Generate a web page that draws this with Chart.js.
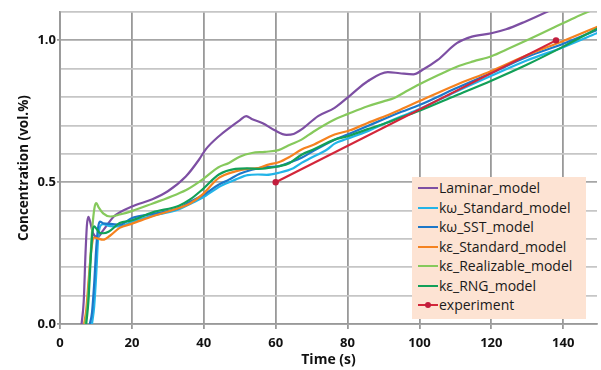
<!DOCTYPE html>
<html>
<head>
<meta charset="utf-8">
<script src="https://cdn.jsdelivr.net/npm/chart.js@4/dist/chart.umd.min.js"></script>
<style>
  html, body { margin: 0; padding: 0; background: #ffffff; }
  #wrap { position: relative; width: 601px; height: 370px; }
  #legend {
    position: absolute; left: 412px; top: 177px; width: 174px; height: 142px;
    background: #fde3d3; box-sizing: border-box; padding-top: 1px;
    font-family: "Open Sans", sans-serif; font-size: 14px; color: #1a1a1a;
  }
  .row { position: relative; height: 19.5px; line-height: 19.5px; white-space: nowrap; }
  .swatch { position: absolute; left: 6px; top: 9px; width: 20px; height: 2px; }
  .dot { position: absolute; left: 13px; top: 7px; width: 6px; height: 6px; border-radius: 50%; }
  .lbl { position: absolute; left: 27px; top: 0; }
</style>
</head>
<body>
<div id="wrap">
  <canvas id="c" width="601" height="370"></canvas>
  <div id="legend"></div>
</div>
<script>
// ---- data ----
const seriesNames = ["Laminar_model", "kω_Standard_model", "kω_SST_model", "kε_Standard_model", "kε_Realizable_model", "kε_RNG_model", "experiment"];

const laminarT = [6.0, 6.6, 7.1, 7.5, 7.9, 8.4, 9.2, 10.4, 12, 15, 20, 25.7, 30, 35, 38.7, 40.5, 44.2, 47.5, 50, 51.8, 53.5, 56.4, 59.6, 63, 65, 67.2, 71.8, 76.4, 81, 85.6, 91.2, 94.5, 98.3, 101, 105, 110.4, 114.6, 120, 124.1, 129.4, 135.2, 140, 149.5];
const laminarC = [0, 0.08, 0.25, 0.35, 0.378, 0.36, 0.32, 0.306, 0.33, 0.379, 0.414, 0.44, 0.468, 0.52, 0.58, 0.615, 0.662, 0.695, 0.718, 0.733, 0.722, 0.708, 0.684, 0.667, 0.67, 0.686, 0.733, 0.762, 0.809, 0.856, 0.888, 0.884, 0.88, 0.897, 0.93, 0.99, 1.013, 1.025, 1.039, 1.066, 1.099, 1.13, 1.19];

const kwStdT = [8.9, 9.5, 10.1, 10.6, 11.2, 12, 14, 16.6, 19.9, 25.8, 32.1, 36.3, 39.6, 44.8, 48.8, 52.2, 55, 57.5, 60.8, 64.9, 67.2, 69.1, 74.4, 76.4, 79.7, 85.6, 90, 95, 100, 110, 120, 130, 140, 149.5];
const kwStdC = [0, 0.06, 0.18, 0.3, 0.345, 0.352, 0.345, 0.344, 0.36, 0.382, 0.4, 0.424, 0.445, 0.487, 0.509, 0.525, 0.527, 0.526, 0.533, 0.549, 0.568, 0.581, 0.616, 0.636, 0.652, 0.68, 0.705, 0.732, 0.758, 0.818, 0.875, 0.93, 0.976, 1.026];

const kwSstT = [8.3, 8.9, 9.5, 10.1, 10.6, 11.1, 12, 14.1, 16.6, 19.9, 25.8, 33.1, 36.3, 39.6, 44, 47, 50, 53.4, 57.5, 60.8, 64, 67.2, 70.2, 76.4, 80, 85.6, 90, 95, 100, 110, 120, 130, 140, 149.5];
const kwSstC = [0, 0.04, 0.14, 0.27, 0.34, 0.361, 0.355, 0.353, 0.35, 0.373, 0.388, 0.409, 0.432, 0.453, 0.49, 0.509, 0.53, 0.544, 0.553, 0.556, 0.57, 0.586, 0.608, 0.65, 0.668, 0.698, 0.722, 0.748, 0.772, 0.83, 0.885, 0.942, 0.988, 1.037];

const keStdT = [6.7, 7.3, 8.0, 8.7, 9.5, 10.4, 12, 14, 16.6, 19.9, 25.8, 33.1, 36.3, 39.6, 44.2, 48.8, 52, 55.2, 58, 60.8, 64, 67.2, 70.2, 76.4, 80.7, 85.6, 91.3, 94.8, 100, 110, 120, 130, 140, 149.5];
const keStdC = [0, 0.05, 0.16, 0.26, 0.305, 0.302, 0.297, 0.312, 0.339, 0.353, 0.38, 0.409, 0.426, 0.456, 0.515, 0.538, 0.547, 0.55, 0.562, 0.57, 0.59, 0.615, 0.63, 0.668, 0.683, 0.709, 0.737, 0.756, 0.786, 0.842, 0.892, 0.948, 0.998, 1.048];

const keRealT = [7.0, 7.6, 8.3, 9.0, 9.6, 10.1, 10.8, 12, 14, 16.6, 20, 25.8, 32.2, 35.5, 39.6, 44, 47, 50, 53.4, 57, 60.8, 64, 67.2, 70.5, 76.4, 80, 85.6, 90, 93, 96, 100, 105, 110.4, 115, 120, 125, 130.5, 136.8, 143.2, 149.5];
const keRealC = [0, 0.06, 0.2, 0.34, 0.41, 0.426, 0.41, 0.39, 0.379, 0.386, 0.398, 0.425, 0.456, 0.475, 0.509, 0.552, 0.568, 0.59, 0.603, 0.607, 0.613, 0.632, 0.65, 0.678, 0.721, 0.74, 0.768, 0.785, 0.797, 0.818, 0.845, 0.876, 0.907, 0.926, 0.944, 0.972, 1.004, 1.042, 1.08, 1.115];

const keRngT = [7.3, 7.9, 8.5, 9.0, 9.5, 10.2, 11, 12, 13.5, 16.6, 19.9, 25.8, 33.1, 36.3, 39.6, 44.2, 48.8, 52, 55.2, 58, 60.8, 63.8, 67.2, 70.5, 76.4, 80, 85.6, 90.2, 94.8, 100, 110, 120, 130, 140, 149.5];
const keRngC = [0, 0.08, 0.22, 0.32, 0.344, 0.335, 0.322, 0.32, 0.325, 0.356, 0.365, 0.394, 0.417, 0.44, 0.474, 0.527, 0.547, 0.549, 0.547, 0.55, 0.556, 0.567, 0.597, 0.615, 0.65, 0.662, 0.687, 0.706, 0.728, 0.752, 0.805, 0.858, 0.915, 0.978, 1.042];

const expT = [60, 138];
const expC = [0.5, 1.0];

const xTickValues = [0, 20, 40, 60, 80, 100, 120, 140];
const yTickLabels = ["0.0", "0.5", "1.0"];

// ---- build ----
const colors = ["#7d4fa3", "#22b4e8", "#1c77c9", "#f5821f", "#86c95c", "#12a058", "#d3263a"];
const tArrays = [laminarT, kwStdT, kwSstT, keStdT, keRealT, keRngT, expT];
const cArrays = [laminarC, kwStdC, kwSstC, keStdC, keRealC, keRngC, expC];

const datasets = seriesNames.map((name, i) => ({
  label: name,
  data: tArrays[i].map((t, j) => ({ x: t, y: cArrays[i][j] })),
  borderColor: colors[i],
  backgroundColor: i === 6 ? "#c21d3d" : colors[i],
  borderWidth: 2.2,
  pointRadius: i === 6 ? 3.2 : 0,
  pointBorderWidth: 0,
  cubicInterpolationMode: i === 6 ? "default" : "monotone",
  tension: 0,
  fill: false,
  order: i === 6 ? 0 : 10 - i
}));

const majorGrid = "#999999";
const hMajorGrid = "#a6a6a6";
const minorGrid = "#c6c6c6";
const isHalf = v => Math.abs(Math.round(v * 10) % 5) === 0;

new Chart(document.getElementById("c"), {
  type: "line",
  data: { datasets },
  options: {
    responsive: false,
    animation: false,
    layout: { padding: { top: 12, right: 0, left: 0, bottom: 0 } },
    plugins: { legend: { display: false }, tooltip: { enabled: false } },
    scales: {
      x: {
        type: "linear",
        min: 0, max: 149.4,
        afterFit: s => { s.height = 46; },
        afterBuildTicks: s => { s.ticks = xTickValues.map(v => ({ value: v })); },
        ticks: {
          includeBounds: false,
          color: "#111",
          font: { family: "Open Sans", size: 13, weight: "bold" },
          padding: 6,
          maxRotation: 0,
          callback: v => String(v)
        },
        grid: { color: majorGrid, lineWidth: 1.8, tickLength: 5, tickColor: majorGrid },
        border: { color: majorGrid, width: 1.8 },
        title: {
          display: true, text: "Time (s)", color: "#111",
          font: { family: "Open Sans", size: 14, weight: "bold" },
          padding: { top: 0, bottom: 2 }
        }
      },
      y: {
        min: 0, max: 1.1,
        afterFit: s => { s.width = 60; },
        ticks: {
          stepSize: 0.1,
          color: "#111",
          font: { family: "Open Sans", size: 13, weight: "bold" },
          padding: 1,
          callback: v => isHalf(v) ? yTickLabels[Math.round(v * 2)] : ""
        },
        grid: {
          color: c => isHalf(c.tick.value) && c.tick.value > 0.01 ? hMajorGrid : minorGrid,
          lineWidth: 1.8,
          tickLength: 3,
          tickColor: c => isHalf(c.tick.value) ? majorGrid : "rgba(0,0,0,0)"
        },
        border: { color: majorGrid, width: 1.8 },
        title: {
          display: true, text: "Concentration (vol.%)", color: "#111",
          font: { family: "Open Sans", size: 13.5, weight: "bold" },
          padding: { top: 16, bottom: 0 }
        }
      }
    }
  }
});

// HTML legend built from the datasets
const legend = document.getElementById("legend");
datasets.forEach((d, i) => {
  const row = document.createElement("div");
  row.className = "row";
  const sw = document.createElement("span");
  sw.className = "swatch";
  sw.style.background = d.borderColor;
  row.appendChild(sw);
  if (i === 6) {
    const dot = document.createElement("span");
    dot.className = "dot";
    dot.style.background = d.backgroundColor;
    row.appendChild(dot);
  }
  const lb = document.createElement("span");
  lb.className = "lbl";
  lb.textContent = d.label;
  row.appendChild(lb);
  legend.appendChild(row);
});
</script>
</body>
</html>
